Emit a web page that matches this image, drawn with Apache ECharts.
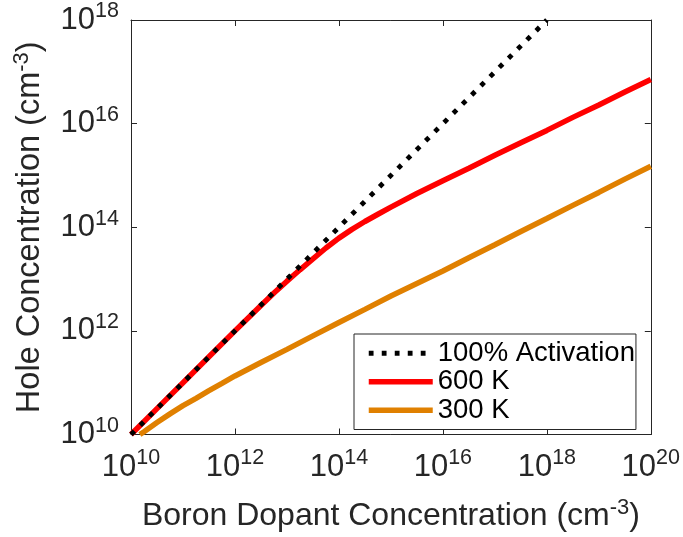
<!DOCTYPE html>
<html>
<head>
<meta charset="utf-8">
<script src="https://cdn.jsdelivr.net/npm/echarts@6/dist/echarts.min.js"></script>
<style>html,body{margin:0;padding:0;background:#fff}#c{width:683px;height:537px}</style>
</head>
<body>
<div id="c"></div>
<script>
// Boron dopant concentration (cm^-3) and hole concentration (cm^-3)
const dopantFull = [1e10, 1e18];
const holesFull = [1e10, 1e18];

const dopantRed = [1e10, 3.16e10, 1e11, 3.16e11, 1e12, 3.16e12, 5.62e12, 1e13, 1.78e13, 3.16e13, 5.62e13, 1e14, 1.78e14, 3.16e14, 5.62e14, 1e15, 3.16e15, 1e16, 3.16e16, 1e17, 3.16e17, 1e18, 3.16e18, 1e19, 3.16e19, 1e20];
const holesRed = [1e10, 3.16e10, 1e11, 3.16e11, 1e12, 3.1e12, 5.37e12, 9.1e12, 1.51e13, 2.45e13, 3.98e13, 6.17e13, 9.1e13, 1.29e14, 1.78e14, 2.45e14, 4.47e14, 7.9e14, 1.38e15, 2.45e15, 4.27e15, 7.4e15, 1.32e16, 2.29e16, 4.07e16, 7.1e16];

const dopantOrange = [1.48e10, 1.78e10, 3.16e10, 5.62e10, 1e11, 1.78e11, 3.16e11, 5.62e11, 1e12, 3.16e12, 1e13, 3.16e13, 1e14, 3.16e14, 1e15, 3.16e15, 1e16, 3.16e16, 1e17, 3.16e17, 1e18, 3.16e18, 1e19, 3.16e19, 1e20];
const holesOrange = [1.0e10, 1.13e10, 1.7e10, 2.5e10, 3.6e10, 5.0e10, 7.0e10, 9.7e10, 1.35e11, 2.45e11, 4.4e11, 8.0e11, 1.45e12, 2.6e12, 4.7e12, 8.2e12, 1.43e13, 2.57e13, 4.6e13, 8.3e13, 1.48e14, 2.64e14, 4.7e14, 8.5e14, 1.5e15];

const seriesNames = ['100% Activation', '600 K', '300 K'];

const zip = (xs, ys) => xs.map((x, i) => [x, ys[i]]);
const axisColor = '#262626';
const font = 'Liberation Sans, Arial, Helvetica, sans-serif';
const rich = {
  b: { fontSize: 31, fontFamily: font, color: axisColor },
  s: { fontSize: 21.5, fontFamily: font, color: axisColor, padding: [0, 0, 17, 0] }
};
const fmt = v => '{b|10}{s|' + Math.round(Math.log10(v)) + '}';
const nameRich = { s: { fontSize: 22, fontFamily: font, color: axisColor, padding: [0, 0, 17, 0] } };

const chart = echarts.init(document.getElementById('c'), null, { renderer: 'canvas' });
const baseAxis = {
  type: 'log', logBase: 10,
  axisLine: { show: true, lineStyle: { color: axisColor, width: 1 } },
  axisTick: { show: true, inside: true, length: 6, lineStyle: { color: axisColor } },
  minorTick: { show: false },
  splitLine: { show: false }
};
chart.setOption({
  animation: false,
  backgroundColor: '#ffffff',
  grid: { left: 131, right: 30, top: 20, bottom: 101, containLabel: false },
  xAxis: [
    Object.assign({}, baseAxis, {
      min: 1e10, max: 1e20, interval: 2, position: 'bottom',
      axisLabel: { formatter: fmt, rich: rich, margin: 13 },
      name: 'Boron Dopant Concentration (cm{s|-3})',
      nameLocation: 'middle', nameGap: 62,
      nameTextStyle: { fontSize: 32, fontFamily: font, color: axisColor, rich: nameRich }
    }),
    Object.assign({}, baseAxis, {
      min: 1e10, max: 1e20, interval: 2, position: 'top',
      axisLabel: { show: false }
    })
  ],
  yAxis: [
    Object.assign({}, baseAxis, {
      min: 1e10, max: 1e18, interval: 2, position: 'left',
      axisLabel: { formatter: fmt, rich: rich, margin: 12 },
      name: 'Hole Concentration (cm{s|-3})',
      nameLocation: 'middle', nameGap: 81,
      nameTextStyle: { fontSize: 32.5, fontFamily: font, color: axisColor, rich: nameRich }
    }),
    Object.assign({}, baseAxis, {
      min: 1e10, max: 1e18, interval: 2, position: 'right',
      axisLabel: { show: false }
    })
  ],
  legend: {
    orient: 'vertical', left: 354, top: 334,
    data: seriesNames,
    itemWidth: 64, itemHeight: 10, itemGap: 0,
    padding: [5, 1, 5, 12],
    borderColor: axisColor, borderWidth: 1, backgroundColor: '#fff',
    textStyle: { fontSize: 27.5, fontFamily: font, color: '#000', lineHeight: 28.5 },
    itemStyle: { opacity: 0, borderWidth: 0 },
    lineStyle: { width: 'inherit' }
  },
  series: [
    { name: seriesNames[1], type: 'line', data: zip(dopantRed, holesRed),
      symbol: 'none', lineStyle: { color: '#ff0000', width: 5.5 }, itemStyle: { color: '#ff0000' }, z: 3 },
    { name: seriesNames[2], type: 'line', data: zip(dopantOrange, holesOrange),
      symbol: 'none', lineStyle: { color: '#e08000', width: 5.5 }, itemStyle: { color: '#e08000' }, z: 3 },
    { name: seriesNames[0], type: 'line', data: zip(dopantFull, holesFull),
      symbol: 'none', lineStyle: { color: '#000', width: 4.8, type: [4.8, 8.2], cap: 'butt' }, itemStyle: { color: '#000' }, z: 4 }
  ]
});
</script>
</body>
</html>
